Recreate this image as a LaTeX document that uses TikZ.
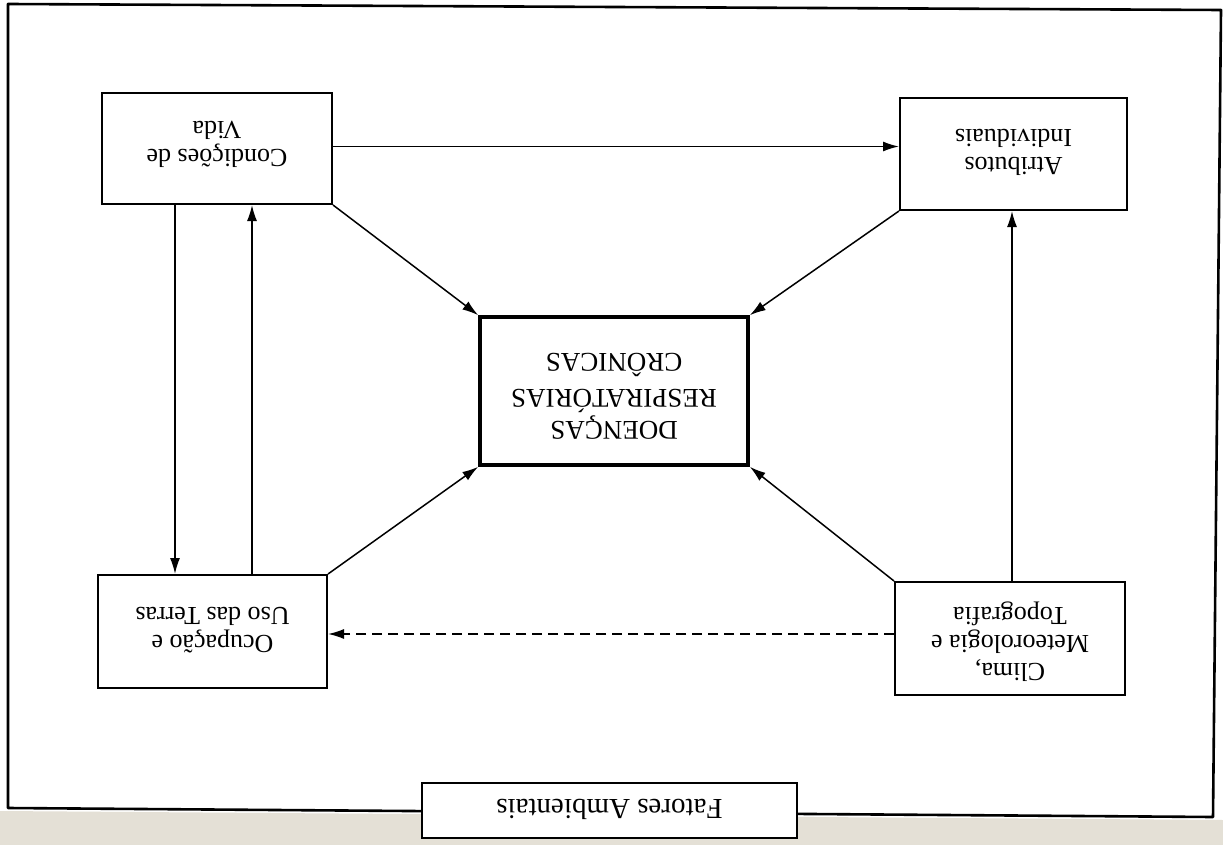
\documentclass[tikz,border=0pt]{standalone}
\usepackage{fontspec}
\setmainfont{Liberation Serif}
\usetikzlibrary{arrows.meta}
\definecolor{paper}{RGB}{228,224,214}
\begin{document}
\begin{tikzpicture}[x=1pt,y=-1pt,
  box/.style={draw, line width=2pt, fill=white, inner sep=0pt},
  mainbox/.style={box, line width=3.6pt},
  txt/.style={rotate=180, align=center, inner sep=0pt,
    font=\fontsize{26}{28}\selectfont},
  capline/.style={rotate=180, inner sep=0pt, anchor=mid,
    font=\fontsize{27}{31}\selectfont},
  arr/.style={line width=1.5pt, -{Latex[length=16pt,width=10pt]}},
  dasharr/.style={arr, dash pattern=on 10pt off 6pt},
]
\useasboundingbox (0,0) rectangle (1223,845);
\fill[white] (0,0) rectangle (1223,845);
% page strip below the frame
\fill[paper] (0,811) -- (1223,820) -- (1223,845) -- (0,845) -- cycle;

% outer frame
\coordinate (f1) at (8,4);
\coordinate (f2) at (1221,10);
\coordinate (f3) at (1213,817);
\coordinate (f4) at (8,808);
\draw[line width=2.6pt, line join=round] (f1) -- (f2) -- (f3) -- (f4) -- cycle;

% boxes
\node[box, minimum width=230, minimum height=111] (cv) at (217,148.5) {};
\node[box, minimum width=227, minimum height=112] (ai) at (1013.5,154) {};
\node[box, minimum width=229, minimum height=113] (ou) at (212.5,631.5) {};
\node[box, minimum width=230, minimum height=113] (cl) at (1010,638.5) {};
\node[mainbox, minimum width=268, minimum height=148] (dr) at (614,391) {};
\node[box, minimum width=375, minimum height=55] (fa) at (609.5,810.5) {};

% box texts
\node[txt] (cvt) at ([yshift=4]cv.center) {Condições de\\Vida};
\node[txt] (ait) at ([yshift=2]ai.center) {Atributos\\Individuais};
\node[txt] (out) at ([yshift=1]ou.center) {Ocupação e\\Uso das Terras};
\node[txt] (clt) at ([yshift=-3]cl.center) {Clima,\\Meteorologia e\\Topografia};
\node[capline] (dr1) at ([yshift=-33]dr.center) {DOENÇAS};
\node[capline] (dr2) at ([yshift=-1]dr.center) {RESPIRATÓRIAS};
\node[capline] (dr3) at ([yshift=35]dr.center) {CRÔNICAS};
\node[txt, font=\fontsize{29}{32}\selectfont] (fat) at ([yshift=1]fa.center) {Fatores Ambientais};

% connectors
\draw[arr] ([yshift=2]cv.east) -- ([yshift=2]cv.east -| ai.west);
\draw[arr] (cv.south east) -- (dr.north west);
\draw[arr] (ai.south west) -- (dr.north east);
\draw[arr] (ou.north east) -- (dr.south west);
\draw[arr] (cl.north west) -- (dr.south east);
\draw[arr] (cv.south -| 175,0) -- (ou.north -| 175,0);
\draw[arr] (ou.north -| 252,0) -- (cv.south -| 252,0);
\draw[arr] (cl.north -| 1012,0) -- (ai.south -| 1012,0);
\draw[dasharr] (cl.west |- 0,634) -- (ou.east |- 0,634);
\end{tikzpicture}
\end{document}
